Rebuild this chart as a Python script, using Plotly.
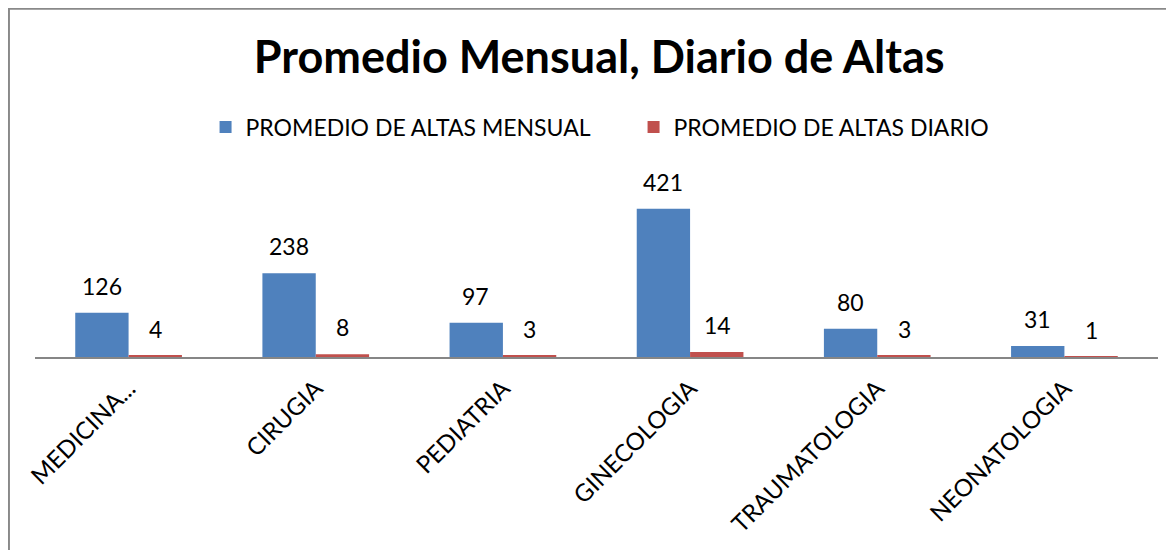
import plotly.graph_objects as go

categories = ["MEDICINA...", "CIRUGIA", "PEDIATRIA", "GINECOLOGIA", "TRAUMATOLOGIA", "NEONATOLOGIA"]
mensual = [126, 238, 97, 421, 80, 31]
diario = [4, 8, 3, 14, 3, 1]

BLUE = "#4F81BD"
RED = "#C0504D"
FONT = "Lato"

fig = go.Figure()
fig.add_trace(go.Bar(x=categories, y=mensual, name="PROMEDIO DE ALTAS MENSUAL",
                     marker=dict(color=BLUE, line=dict(width=0))))
fig.add_trace(go.Bar(x=categories, y=diario, name="PROMEDIO DE ALTAS DIARIO",
                     marker=dict(color=RED, line=dict(width=0))))

ann = []
for c, v in zip(categories, mensual):
    ann.append(dict(x=c, y=v, xref="x", yref="y", text=str(v), showarrow=False,
                    xshift=-27, yshift=11, yanchor="bottom",
                    font=dict(family=FONT, size=23, color="#000")))
for c, v in zip(categories, diario):
    ann.append(dict(x=c, y=v, xref="x", yref="y", text=str(v), showarrow=False,
                    xshift=27, yshift=11, yanchor="bottom",
                    font=dict(family=FONT, size=23, color="#000")))

fig.update_layout(
    width=1166, height=542,
    margin=dict(l=27, r=16, t=173, b=193),
    paper_bgcolor="white", plot_bgcolor="white",
    barmode="group", bargap=0.43, bargroupgap=0,
    title=dict(text="<b>Promedio Mensual, Diario de Altas</b>", x=0.507, xanchor="center",
               y=0.9096, yanchor="middle", font=dict(family=FONT, size=45, color="#000")),
    legend=dict(orientation="h", x=0.533, xanchor="center", y=1.307, yanchor="middle",
                font=dict(family=FONT, size=23, color="#000"),
                traceorder="normal", entrywidth=383),
    showlegend=True,
    annotations=ann,
    shapes=[dict(type="rect", xref="paper", yref="paper", x0=-0.0232, x1=1.1,
                 y0=-1.3, y1=1.978, line=dict(color="#898989", width=2), layer="below")],
    xaxis=dict(showline=True, linecolor="#868686", linewidth=2, ticks="",
               tickangle=-45, tickfont=dict(family=FONT, size=24, color="#000"),
               ticklabelstandoff=6, showgrid=False),
    yaxis=dict(range=[0, 500], showticklabels=False, showgrid=False, zeroline=False,
               showline=False, ticks=""),
)
fig.write_html("out.html")
